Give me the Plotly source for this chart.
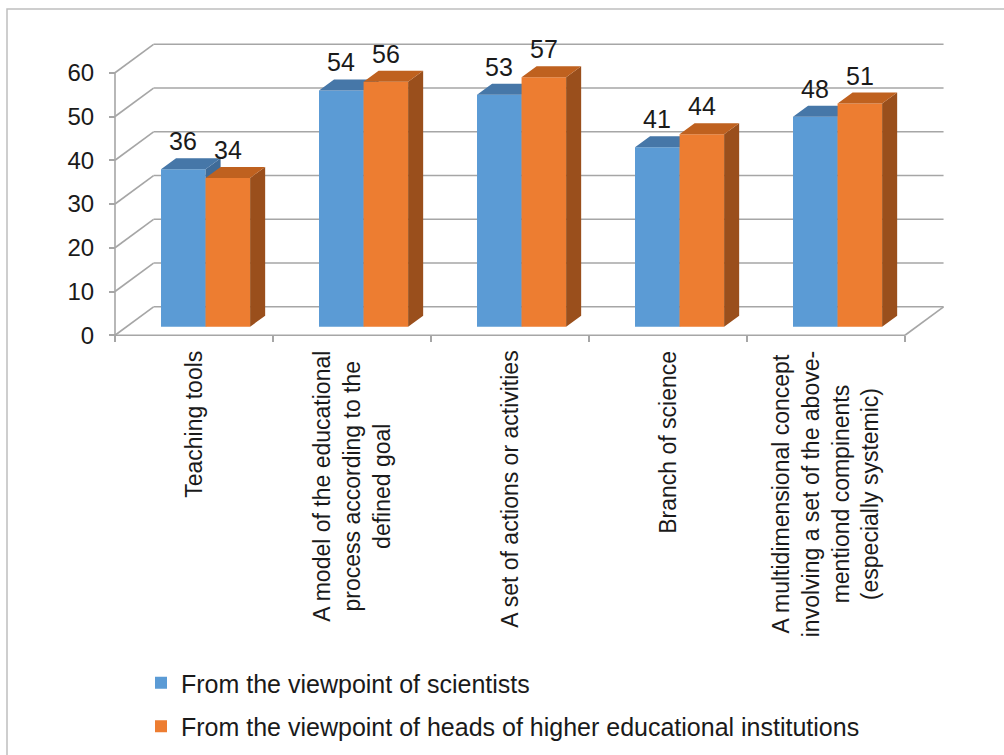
import plotly.graph_objects as go

# ---- data -------------------------------------------------------------
categories = [
    "Teaching tools",
    "A model of the educational<br>process according to the<br>defined goal",
    "A set of actions or activities",
    "Branch of science",
    "A multidimensional concept<br>involving a set of the above-<br>mentiond compinents<br>(especially systemic)",
]
scientists = [36, 54, 53, 41, 48]
heads = [34, 56, 57, 44, 51]
series_names = [
    "From the viewpoint of scientists",
    "From the viewpoint of heads of higher educational institutions",
]
y_ticks = [0, 10, 20, 30, 40, 50, 60]

# ---- styling / pseudo-3D geometry --------------------------------------
FONT = "Liberation Sans, Arial, sans-serif"
TEXT = "#1a1a1a"
GRID = "#a6a6a6"
DEPTH_X = 0.244      # horizontal shift of the back wall (category units)
DEPTH_Y = 6.5        # vertical shift of the back wall (value units)
BAR_W = 0.282        # width of one bar front face
BAR_FRONT = 0.30     # depth fraction of bar front faces
BAR_BACK = 0.69      # depth fraction of bar back faces
X_RANGE = [-0.5, 5.5]
Y_RANGE = [-2, 70]

W, H = 1004, 755
M_L, M_R, M_T, M_B = 36, 20, 29, 411
PLOT_W = W - M_L - M_R
PLOT_H = H - M_T - M_B


def px_to_paper(px, py):
    return (px - M_L) / PLOT_W, (H - M_B - py) / PLOT_H


styles = [
    dict(front="#5b9bd5", top="#4677a8", side="#3f6b98", xa="x", ya="y"),
    dict(front="#ed7d31", top="#bf611f", side="#9a4f1c", xa="x2", ya="y2"),
]

fig = go.Figure()

n = len(categories)
bar_base = BAR_FRONT * DEPTH_Y
dx = (BAR_BACK - BAR_FRONT) * DEPTH_X
dy = (BAR_BACK - BAR_FRONT) * DEPTH_Y
annotations = []

for s, (values, name, st) in enumerate(zip([scientists, heads], series_names, styles)):
    centers = [i + 0.5 + BAR_FRONT * DEPTH_X for i in range(n)]
    offset = -BAR_W if s == 0 else 0.0
    fig.add_trace(go.Bar(
        x=centers, y=values, base=bar_base, width=BAR_W, offset=offset,
        marker=dict(color=st["front"], line=dict(width=0)),
        name=name, legendgroup=f"g{s}",
        xaxis=st["xa"], yaxis=st["ya"],
        hovertemplate="%{y}<extra>" + name + "</extra>",
    ))
    top_x, top_y, side_x, side_y = [], [], [], []
    for c, v in zip(centers, values):
        xl = c + offset
        t = bar_base + v
        top_x += [xl, xl + BAR_W, xl + BAR_W + dx, xl + dx, xl, None]
        top_y += [t, t, t + dy, t + dy, t, None]
        side_x += [xl + BAR_W, xl + BAR_W, xl + BAR_W + dx, xl + BAR_W + dx, xl + BAR_W, None]
        side_y += [bar_base, t, t + dy, bar_base + dy, bar_base, None]
        annotations.append(dict(
            x=xl + BAR_W / 2, y=t + dy, xref="x", yref="y",
            text=str(v), showarrow=False, yanchor="bottom", yshift=1,
            font=dict(family=FONT, size=25, color=TEXT),
        ))
    for fx, fy, col in [(side_x, side_y, st["side"]), (top_x, top_y, st["top"])]:
        fig.add_trace(go.Scatter(
            x=fx, y=fy, mode="lines", fill="toself", fillcolor=col,
            line=dict(width=0, color=col), hoverinfo="skip", showlegend=False,
            xaxis=st["xa"], yaxis=st["ya"],
        ))

# category labels, rotated under the floor
for i, cat in enumerate(categories):
    annotations.append(dict(
        x=i + 0.5, y=0, xref="x", yref="y", text=cat, showarrow=False,
        textangle=-90, yanchor="top", xanchor="center", align="center",
        yshift=-14, font=dict(family=FONT, size=23, color=TEXT),
    ))

# wall and floor grid
shapes = []
line = dict(color=GRID, width=1.6)
for v in y_ticks:
    shapes.append(dict(type="line", xref="x", yref="y", layer="below",
                       x0=DEPTH_X, y0=v + DEPTH_Y, x1=n + DEPTH_X, y1=v + DEPTH_Y, line=line))
    shapes.append(dict(type="line", xref="x", yref="y", layer="below",
                       x0=0, y0=v, x1=DEPTH_X, y1=v + DEPTH_Y, line=line))
shapes.append(dict(type="line", xref="x", yref="y", layer="below",
                   x0=n, y0=0, x1=n + DEPTH_X, y1=DEPTH_Y, line=line))
shapes.append(dict(type="line", xref="x", yref="y", layer="below",
                   x0=0, y0=0, x1=n, y1=0, line=line))
shapes.append(dict(type="line", xref="x", yref="y", layer="below",
                   x0=0, y0=y_ticks[0], x1=0, y1=y_ticks[-1], line=line))

# outer chart frame (only its left and top edges fall inside the figure)
fx0, fy0 = px_to_paper(7, 9)
fx1, fy1 = px_to_paper(W + 60, H + 60)
shapes.append(dict(type="rect", xref="paper", yref="paper", layer="below",
                   x0=fx0, y0=fy1, x1=fx1, y1=fy0, line=dict(color="#bfbfbf", width=1.5)))

y_pos = (0 - X_RANGE[0]) / (X_RANGE[1] - X_RANGE[0])
x_pos = (0 - Y_RANGE[0]) / (Y_RANGE[1] - Y_RANGE[0])

fig.update_layout(
    width=W, height=H,
    margin=dict(l=M_L, r=M_R, t=M_T, b=M_B, autoexpand=False),
    paper_bgcolor="white", plot_bgcolor="white",
    barmode="overlay",
    showlegend=True,
    legend=dict(xref="container", yref="container",
                x=141 / W, y=1 - 660 / H, xanchor="left", yanchor="top",
                orientation="v",
                font=dict(family=FONT, size=25, color=TEXT),
                tracegroupgap=8, bgcolor="rgba(0,0,0,0)"),
    xaxis=dict(range=X_RANGE, anchor="free", position=x_pos,
               tickvals=list(range(n + 1)), ticks="outside", ticklen=6,
               tickcolor=GRID, tickwidth=1.6, showticklabels=False,
               showgrid=False, zeroline=False, showline=False, fixedrange=True),
    yaxis=dict(range=Y_RANGE, anchor="free", position=y_pos,
               tickvals=y_ticks, ticks="outside", ticklen=6, tickcolor=GRID,
               tickwidth=1.6, ticklabelstandoff=10,
               tickfont=dict(family=FONT, size=24, color=TEXT),
               showgrid=False, zeroline=False, showline=False, fixedrange=True),
    xaxis2=dict(overlaying="x", matches="x", anchor="y2", visible=False),
    yaxis2=dict(overlaying="y", matches="y", anchor="x2", visible=False),
    shapes=shapes,
    annotations=annotations,
    hovermode="closest",
)

fig.write_html("out.html")
